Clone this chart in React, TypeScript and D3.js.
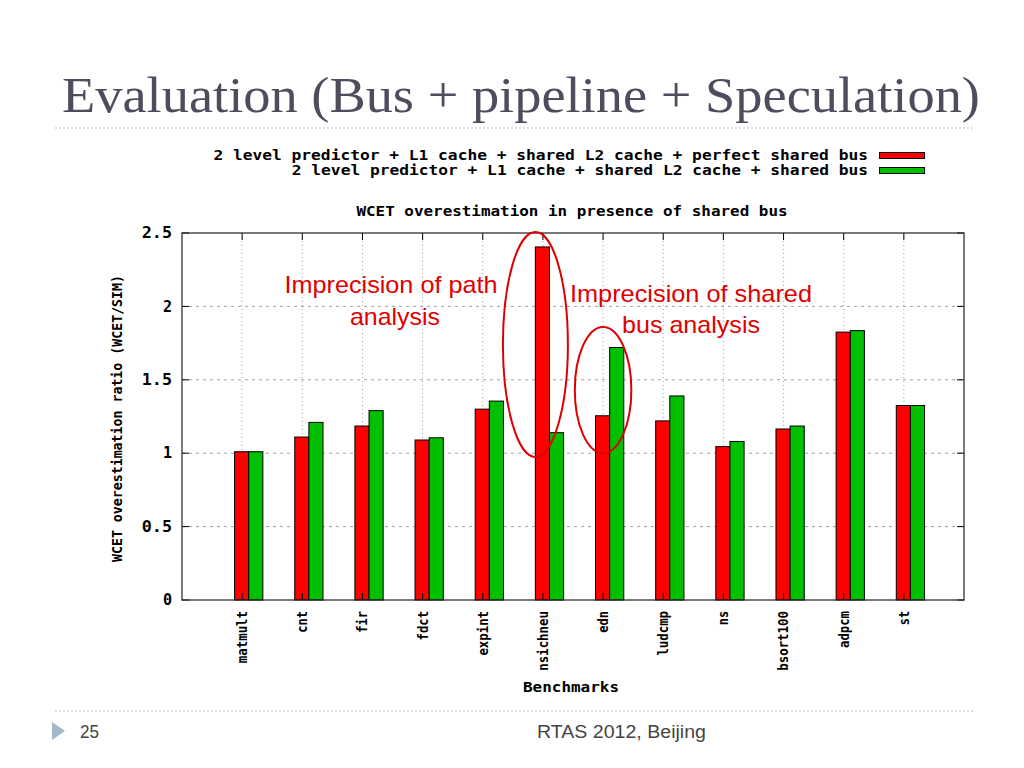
import React from 'react';
import * as d3 from 'd3';

const categories = ['matmult', 'cnt', 'fir', 'fdct', 'expint', 'nsichneu', 'edn', 'ludcmp', 'ns', 'bsort100', 'adpcm', 'st'];
const perfectBus = [1.01, 1.11, 1.185, 1.09, 1.30, 2.405, 1.255, 1.22, 1.045, 1.165, 1.825, 1.325];
const sharedBus = [1.01, 1.21, 1.29, 1.105, 1.355, 1.14, 1.72, 1.39, 1.08, 1.185, 1.835, 1.325];
const yTicks = [0, 0.5, 1, 1.5, 2, 2.5];
const yTickLabels = ['0', '0.5', '1', '1.5', '2', '2.5'];
const seriesNames = [
  '2 level predictor + L1 cache + shared L2 cache + perfect shared bus',
  '2 level predictor + L1 cache + shared L2 cache + shared bus',
];
const seriesColors = ['#ff0000', '#00c000'];

const mono = '"DejaVu Sans Mono", monospace';
const sans = '"Liberation Sans", Arial, sans-serif';

export default function App() {
  const W = 1024, H = 768;
  const left = 182, right = 964, top = 233, bottom = 600;
  const x = d3.scaleLinear().domain([0, categories.length + 1]).range([left, right]);
  const y = d3.scaleLinear().domain([0, 2.5]).range([bottom, top]);
  const step = x(1) - x(0);
  const barW = step * 0.235;
  const series = [perfectBus, sharedBus];
  const cw = 9.8;

  const ellipses = [
    { cat: 'nsichneu', lo: 0.974, hi: 2.507, dx: -0.125, rx: 0.54 },
    { cat: 'edn', lo: 1.0, hi: 1.86, dx: 0, rx: 0.47 },
  ];

  return (
    <svg width={W} height={H} style={{ position: 'absolute', left: 0, top: 0, background: '#fff' }}>
      <rect x={0} y={0} width={W} height={H} fill="#fff" />
      {/* slide title */}
      <text x={62} y={112} fontFamily='"Liberation Serif", "DejaVu Serif", serif' fontSize={50} fill="#4d4d5e" textLength={918} lengthAdjust="spacingAndGlyphs">
        Evaluation (Bus + pipeline + Speculation)
      </text>
      <line x1={55} x2={975} y1={128} y2={128} stroke="#b4c2d0" strokeWidth={1.2} strokeDasharray="2,2" />

      {/* legend */}
      {seriesNames.map((n, i) => (
        <g key={n}>
          <text x={868} y={159.5 + i * 15} textAnchor="end" fontFamily={mono} fontWeight="bold" fontSize={14.5} fill="#000" textLength={n.length * cw - 2} lengthAdjust="spacingAndGlyphs">{n}</text>
          <rect x={879.5} y={152.5 + i * 15} width={45} height={6} fill={seriesColors[i]} stroke="#000" strokeWidth={1} />
        </g>
      ))}

      {/* chart title */}
      <text x={572} y={215.5} textAnchor="middle" fontFamily={mono} fontWeight="bold" fontSize={14.5} textLength={44 * cw} lengthAdjust="spacingAndGlyphs">WCET overestimation in presence of shared bus</text>

      {/* grid */}
      {yTicks.slice(1, -1).map(t => (
        <line key={'gy' + t} x1={left} x2={right} y1={y(t)} y2={y(t)} stroke="#a0a0a0" strokeWidth={1} strokeDasharray="3,4" />
      ))}
      {categories.map((c, i) => (
        <line key={'gx' + c} x1={x(i + 1)} x2={x(i + 1)} y1={top} y2={bottom} stroke="#a0a0a0" strokeWidth={1} strokeDasharray="1,3" />
      ))}

      {/* bars */}
      {categories.map((c, i) => (
        <g key={'b' + c}>
          {series.map((s, k) => {
            const bx = x(i + 1) - barW / 2 - 0.5 + k * barW;
            return <rect key={k} x={bx} y={y(s[i])} width={barW} height={y(0) - y(s[i])} fill={seriesColors[k]} stroke="#000" strokeWidth={1} />;
          })}
        </g>
      ))}

      {/* ticks */}
      {yTicks.map(t => (
        <g key={'ty' + t}>
          <line x1={left} x2={left + 7} y1={y(t)} y2={y(t)} stroke="#000" />
          <line x1={right - 7} x2={right} y1={y(t)} y2={y(t)} stroke="#000" />
        </g>
      ))}
      {categories.map((c, i) => (
        <g key={'tx' + c}>
          <line x1={x(i + 1)} x2={x(i + 1)} y1={bottom} y2={bottom - 7} stroke="#000" />
          <line x1={x(i + 1)} x2={x(i + 1)} y1={top} y2={top + 7} stroke="#000" />
        </g>
      ))}
      <rect x={left} y={top} width={right - left} height={bottom - top} fill="none" stroke="#222" strokeWidth={1.2} />

      {/* y tick labels */}
      {yTicks.map((t, i) => (
        <text key={'yl' + t} x={172} y={y(t)} dy="0.35em" textAnchor="end" fontFamily={mono} fontWeight="bold" fontSize={15} textLength={yTickLabels[i].length * 10.6 - 1.5} lengthAdjust="spacingAndGlyphs">{yTickLabels[i]}</text>
      ))}
      {/* y axis label */}
      <text transform={`translate(117,${(275 + 562) / 2}) rotate(-90)`} textAnchor="middle" dy="0.35em" fontFamily={mono} fontWeight="bold" fontSize={14} textLength={287} lengthAdjust="spacingAndGlyphs">WCET overestimation ratio (WCET/SIM)</text>

      {/* x tick labels */}
      {categories.map((c, i) => (
        <text key={'xl' + c} transform={`translate(${x(i + 1)},611) rotate(-90)`} textAnchor="end" dy="0.35em" fontFamily={mono} fontWeight="bold" fontSize={14} textLength={c.length * 7.6 - 1} lengthAdjust="spacingAndGlyphs">{c}</text>
      ))}
      <text x={571} y={692} textAnchor="middle" fontFamily={mono} fontWeight="bold" fontSize={14.5} textLength={96} lengthAdjust="spacingAndGlyphs">Benchmarks</text>

      {/* annotations */}
      <text x={391} y={293} textAnchor="middle" fontFamily={sans} fontSize={24} fill="#e00000" textLength={213} lengthAdjust="spacingAndGlyphs">Imprecision of path</text>
      <text x={395} y={325} textAnchor="middle" fontFamily={sans} fontSize={24} fill="#e00000" textLength={90} lengthAdjust="spacingAndGlyphs">analysis</text>
      <text x={691} y={302} textAnchor="middle" fontFamily={sans} fontSize={24} fill="#e00000" textLength={242} lengthAdjust="spacingAndGlyphs">Imprecision of shared</text>
      <text x={691} y={333} textAnchor="middle" fontFamily={sans} fontSize={24} fill="#e00000" textLength={138} lengthAdjust="spacingAndGlyphs">bus analysis</text>
      {ellipses.map(e => {
        const i = categories.indexOf(e.cat);
        const cx = x(i + 1 + e.dx);
        return <ellipse key={e.cat} cx={cx} cy={(y(e.lo) + y(e.hi)) / 2} rx={e.rx * step} ry={(y(e.lo) - y(e.hi)) / 2} fill="none" stroke="#dd0000" strokeWidth={2} />;
      })}

      {/* footer */}
      <line x1={55} x2={975} y1={711} y2={711} stroke="#b4c2d0" strokeWidth={1.2} strokeDasharray="2,2" />
      <polygon points="52,722 65,731 52,740" fill="#a3b8cb" />
      <text x={80} y={738} fontFamily={sans} fontSize={18} fill="#444" textLength={19} lengthAdjust="spacingAndGlyphs">25</text>
      <text x={537} y={738} fontFamily={sans} fontSize={18} fill="#444" textLength={169} lengthAdjust="spacingAndGlyphs">RTAS 2012, Beijing</text>
    </svg>
  );
}
